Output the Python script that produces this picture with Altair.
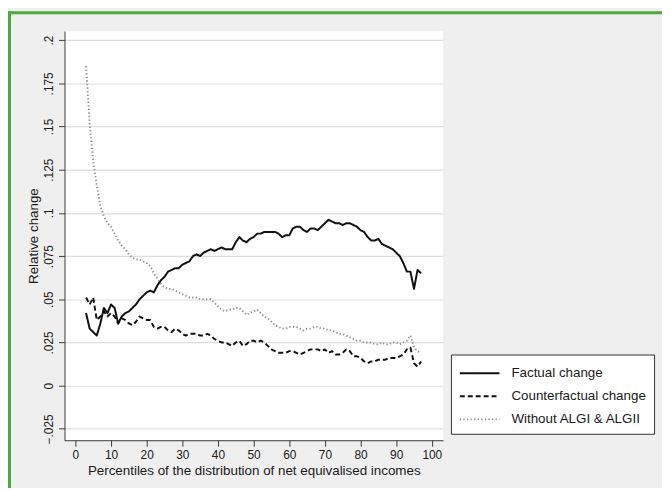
import altair as alt
import pandas as pd

percentiles = list(range(3, 98))

factual = [
    0.042, 0.033, 0.031, 0.029, 0.036, 0.045, 0.042, 0.047, 0.045, 0.036,
    0.040, 0.042, 0.043, 0.045, 0.047, 0.050, 0.052, 0.054, 0.055, 0.054,
    0.058, 0.061, 0.063, 0.066, 0.067, 0.068, 0.068, 0.070, 0.071, 0.072,
    0.075, 0.076, 0.075, 0.077, 0.078, 0.079, 0.078, 0.079, 0.080, 0.079,
    0.079, 0.079, 0.083, 0.086, 0.084, 0.083, 0.085, 0.086, 0.088, 0.088,
    0.089, 0.089, 0.089, 0.089, 0.088, 0.086, 0.087, 0.087, 0.091, 0.092,
    0.092, 0.090, 0.089, 0.091, 0.091, 0.090, 0.092, 0.094, 0.096, 0.095,
    0.094, 0.094, 0.093, 0.094, 0.094, 0.093, 0.092, 0.090, 0.089, 0.086,
    0.084, 0.084, 0.085, 0.082, 0.081, 0.080, 0.079, 0.077, 0.075, 0.071,
    0.066, 0.066, 0.056, 0.067, 0.065,
]

counterfactual = [
    0.051, 0.047, 0.051, 0.038, 0.040, 0.043, 0.040, 0.042, 0.040, 0.036,
    0.039, 0.038, 0.036, 0.035, 0.037, 0.040, 0.039, 0.038, 0.038, 0.034,
    0.033, 0.034, 0.034, 0.032, 0.031, 0.033, 0.032, 0.030, 0.029, 0.030,
    0.030, 0.030, 0.029, 0.029, 0.030, 0.029, 0.027, 0.026, 0.025, 0.025,
    0.024, 0.023, 0.025, 0.026, 0.023, 0.024, 0.026, 0.026, 0.025, 0.026,
    0.025, 0.023, 0.021, 0.020, 0.019, 0.019, 0.019, 0.020, 0.020, 0.019,
    0.018, 0.019, 0.020, 0.021, 0.021, 0.021, 0.020, 0.021, 0.019, 0.020,
    0.018, 0.018, 0.019, 0.021, 0.020, 0.017, 0.017, 0.016, 0.014, 0.013,
    0.014, 0.014, 0.015, 0.015, 0.015, 0.016, 0.016, 0.016, 0.017, 0.018,
    0.021, 0.022, 0.013, 0.011, 0.014,
]

without_algi = [
    0.185, 0.152, 0.130, 0.116, 0.104, 0.098, 0.094, 0.092, 0.088, 0.084,
    0.081, 0.079, 0.076, 0.074, 0.073, 0.073, 0.072, 0.071, 0.069, 0.065,
    0.062, 0.059, 0.057, 0.056, 0.056, 0.055, 0.054, 0.053, 0.052, 0.051,
    0.051, 0.051, 0.050, 0.050, 0.050, 0.050, 0.048, 0.046, 0.044, 0.043,
    0.044, 0.044, 0.045, 0.045, 0.043, 0.041, 0.042, 0.043, 0.044, 0.042,
    0.040, 0.039, 0.037, 0.035, 0.034, 0.033, 0.033, 0.034, 0.034, 0.034,
    0.033, 0.032, 0.033, 0.033, 0.034, 0.034, 0.033, 0.033, 0.032, 0.032,
    0.031, 0.030, 0.030, 0.029, 0.028, 0.027, 0.026, 0.026, 0.025, 0.025,
    0.025, 0.024, 0.024, 0.025, 0.024, 0.024, 0.025, 0.025, 0.024, 0.025,
    0.026, 0.029, 0.022, 0.020, 0.019,
]

series_names = ["Factual change", "Counterfactual change", "Without ALGI & ALGII"]
y_ticks = [-0.025, 0, 0.025, 0.05, 0.075, 0.1, 0.125, 0.15, 0.175, 0.2]
x_ticks = list(range(0, 101, 10))

rows = []
for name, vals in zip(series_names, [factual, counterfactual, without_algi]):
    for p, v in zip(percentiles, vals):
        rows.append({"p": p, "v": v, "series": name})
df = pd.DataFrame(rows)

FONT = "Liberation Sans"
GREEN = "#4eaa3a"
TXT = "#1a1a1a"
AX = "#3a3a3a"

legend = alt.Legend(
    title=None, orient="none", legendX=390, legendY=326.5,
    padding=8, strokeColor="#333333", fillColor="white", cornerRadius=0,
    symbolType="M-2,0H2", symbolSize=400, symbolStrokeWidth=1.6,
    symbolOffset=10,
    labelFontSize=13.5, labelFont=FONT, labelColor=TXT,
    rowPadding=5.2, labelOffset=21,
)

lines = alt.Chart(df).mark_line(strokeJoin="round").encode(
    x=alt.X(
        "p:Q",
        scale=alt.Scale(domain=[-3.06, 103.14], nice=False, zero=False),
        axis=alt.Axis(
            values=x_ticks, grid=False, tickSize=6, labelPadding=3,
            labelFlush=False, labelOverlap=False,
            title="Percentiles of the distribution of net equivalised incomes",
            titleY=35, titleBaseline="alphabetic",
        ),
    ),
    y=alt.Y(
        "v:Q",
        scale=alt.Scale(domain=[-0.0316, 0.2053], nice=False, zero=False),
        axis=alt.Axis(
            values=y_ticks, grid=True, gridColor="#dedede", gridWidth=1.2,
            tickSize=6, labelPadding=6, labelAngle=270,
            labelAlign="center", labelBaseline="alphabetic",
            labelOverlap=False, labelFlush=False,
            labelExpr="replace(format(datum.value, '.3~f'), '0.', '.')",
            title="Relative change", titleAngle=270, titleX=-27, titleY=206.5,
            titleAlign="center", titleBaseline="alphabetic",
        ),
    ),
    color=alt.Color(
        "series:N",
        sort=series_names,
        scale=alt.Scale(domain=series_names, range=["#111111", "#111111", "#8c8c8c"]),
        legend=legend,
    ),
    strokeDash=alt.StrokeDash(
        "series:N",
        sort=series_names,
        scale=alt.Scale(domain=series_names, range=[[1, 0], [5, 3], [1.3, 2.3]]),
        legend=legend,
    ),
    strokeWidth=alt.StrokeWidth(
        "series:N",
        scale=alt.Scale(domain=series_names, range=[2.0, 1.9, 1.3]),
        legend=None,
    ),
)

frame_df = pd.DataFrame({"k": [0]})
left_border = alt.Chart(frame_df).mark_rule(color=GREEN, strokeWidth=3).encode(
    x=alt.value(-55.5), y=alt.value(-20), y2=alt.value(470)
)
top_border = alt.Chart(frame_df).mark_rule(color=GREEN, strokeWidth=3).encode(
    y=alt.value(-18.5), x=alt.value(-57), x2=alt.value(610)
)

chart = alt.layer(left_border, top_border, lines).properties(
    width=382, height=413,
    autosize=alt.AutoSizeParams(type="none"),
    padding={"left": 57, "top": 21, "right": 221, "bottom": 46},
).configure(
    background="#efefef", font=FONT,
).configure_view(
    fill="white", strokeWidth=0,
).configure_axis(
    labelFont=FONT, titleFont=FONT, labelFontSize=12, titleFontSize=13.5,
    titleFontWeight="normal", labelColor=TXT, titleColor=TXT,
    domainColor=AX, domainWidth=1, tickColor=AX, tickWidth=1,
)

chart.save("out.html", embed_options={"renderer": "svg", "actions": False})
